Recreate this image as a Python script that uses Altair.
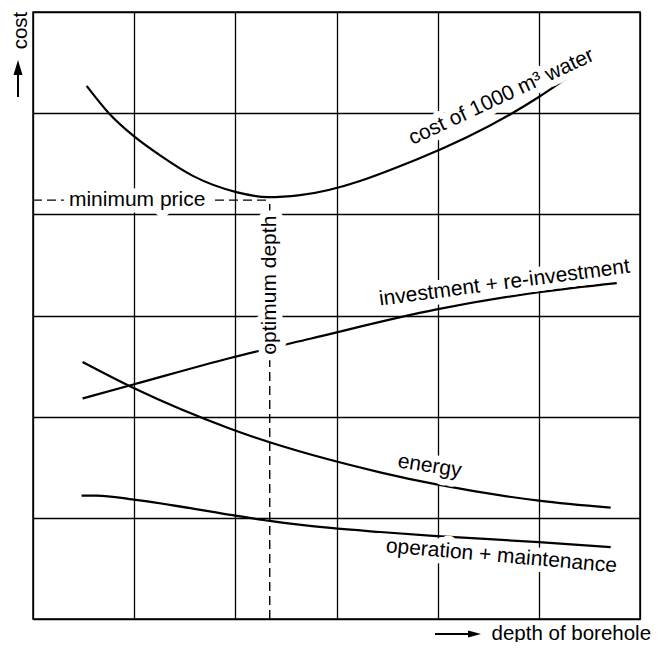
import altair as alt
import pandas as pd

# ---- data (grid units: 6 x 6 schematic) ----
grid_values = [0, 1, 2, 3, 4, 5, 6]

cost_x = [0.53, 0.75, 1.00, 1.26, 1.58, 2.01, 2.32, 2.64, 3.81, 4.72, 5.00, 5.41]
cost_y = [5.27, 5.00, 4.77, 4.58, 4.38, 4.22, 4.17, 4.19, 4.55, 4.99, 5.16, 5.44]

invest_x = [0.49, 1.00, 1.95, 2.74, 3.99, 5.00, 5.77]
invest_y = [2.18, 2.32, 2.58, 2.77, 3.06, 3.23, 3.32]

energy_x = [0.49, 1.00, 1.95, 3.43, 3.99, 5.00, 5.71]
energy_y = [2.54, 2.28, 1.88, 1.45, 1.33, 1.17, 1.10]

om_x = [0.48, 0.63, 1.00, 1.95, 2.34, 2.94, 3.43, 3.99, 5.00, 5.71]
om_y = [1.22, 1.22, 1.18, 1.03, 0.97, 0.90, 0.86, 0.82, 0.76, 0.71]

opt_depth = 2.34
min_price = 4.14

label_text = ["cost of 1000 m³ water", "investment + re-investment", "energy",
              "operation + maintenance", "minimum price", "optimum depth"]
label_x = [4.63, 4.66, 3.92, 4.63, 1.03, 2.34]
label_y = [5.16, 3.32, 1.51, 0.62, 4.14, 3.30]
label_angle = [335, 352.5, 9, 5, 0, 270]

# ---- tables ----
def curve(name, xs, ys):
    return pd.DataFrame({"depth": xs, "cost": ys, "series": name, "order": range(len(xs))})

curves = pd.concat([
    curve("cost of 1000 m3 water", cost_x, cost_y),
    curve("investment + re-investment", invest_x, invest_y),
    curve("energy", energy_x, energy_y),
    curve("operation + maintenance", om_x, om_y),
])

guides = pd.DataFrame({
    "depth": [0, opt_depth], "depth2": [opt_depth, opt_depth],
    "cost": [min_price, 0], "cost2": [min_price, min_price],
})

labels = pd.DataFrame({"text": label_text, "depth": label_x, "cost": label_y, "angle": label_angle})
deco = pd.DataFrame({"k": [0]})

FONT = "Liberation Sans"
FS = 21

x_scale = alt.Scale(domain=[0, 6], nice=False, zero=False)
y_scale = alt.Scale(domain=[0, 6], nice=False, zero=False)

x_axis = alt.Axis(values=grid_values, grid=True, gridColor="black", gridWidth=1.3, gridOpacity=1,
                  domain=False, ticks=False, labels=False, title="depth of borehole",
                  titleFont=FONT, titleFontSize=20.5, titleFontWeight="normal", titleColor="black",
                  titleAlign="left", titleBaseline="middle", titleX=458, titleY=14, titleAngle=0)
y_axis = alt.Axis(values=grid_values, grid=True, gridColor="black", gridWidth=1.3, gridOpacity=1,
                  domain=False, ticks=False, labels=False, title="cost",
                  titleFont=FONT, titleFontSize=20.5, titleFontWeight="normal", titleColor="black",
                  titleAlign="center", titleBaseline="middle", titleX=-12.5, titleY=18, titleAngle=270)

X = alt.X("depth:Q", scale=x_scale, axis=x_axis)
Y = alt.Y("cost:Q", scale=y_scale, axis=y_axis)

lines = alt.Chart(curves).mark_line(color="black", strokeWidth=2.2, interpolate="monotone").encode(
    x=X, y=Y, detail="series:N", order="order:Q")

dashed = alt.Chart(guides).mark_rule(color="black", strokeWidth=1.4, strokeDash=[9, 5]).encode(
    x=X, x2="depth2:Q", y=Y, y2="cost2:Q")

halo = alt.Chart(labels).mark_text(font=FONT, fontSize=FS, fill="white", stroke="white",
                                   strokeWidth=13, strokeJoin="round", align="center",
                                   baseline="middle").encode(
    x=X, y=Y, text="text:N", angle=alt.Angle("angle:Q", scale=None))

text = alt.Chart(labels).mark_text(font=FONT, fontSize=FS, color="black", align="center",
                                   baseline="middle").encode(
    x=X, y=Y, text="text:N", angle=alt.Angle("angle:Q", scale=None))

# axis-title arrows
up_line = alt.Chart(deco).mark_rule(color="black", strokeWidth=2).encode(
    x=alt.value(-15), y=alt.value(85), y2=alt.value(58))
up_head = alt.Chart(deco).mark_point(shape="M-0.6,1L0,-1L0.6,1Z", filled=True, color="black",
                                     opacity=1, size=225, strokeWidth=0).encode(
    x=alt.value(-15), y=alt.value(55.5))
right_line = alt.Chart(deco).mark_rule(color="black", strokeWidth=2).encode(
    x=alt.value(402), x2=alt.value(438), y=alt.value(622))
right_head = alt.Chart(deco).mark_point(shape="M-1,-0.55L1,0L-1,0.55Z", filled=True, color="black",
                                        opacity=1, size=169, strokeWidth=0).encode(
    x=alt.value(441.5), y=alt.value(622))

chart = alt.layer(lines, dashed, halo, text, up_line, up_head, right_line, right_head).properties(
    width=607, height=607,
    autosize=alt.AutoSizeParams(type="none"),
    padding={"left": 25, "top": 4, "right": 14, "bottom": 23},
    background="white",
).configure_view(stroke="black", strokeWidth=1.5)

chart.save("out.html", embed_options={"renderer": "svg", "actions": False})
